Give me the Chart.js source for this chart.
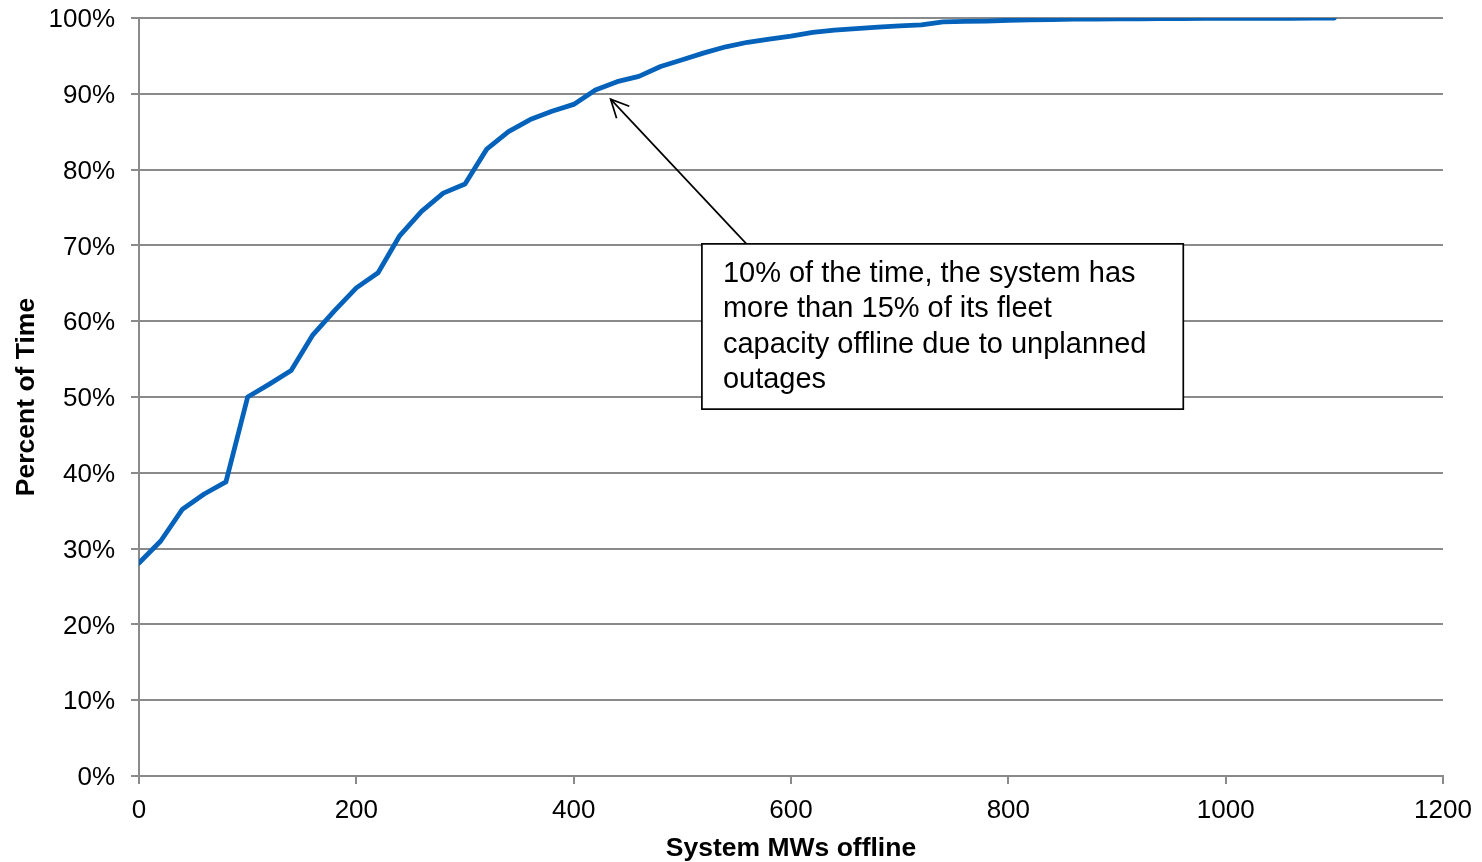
<!DOCTYPE html>
<html>
<head>
<meta charset="utf-8">
<script src="https://cdn.jsdelivr.net/npm/chart.js@4/dist/chart.umd.min.js"></script>
<style>
  html, body { margin: 0; padding: 0; background: #fff; }
  #wrap { width: 1482px; height: 862px; position: relative; }
</style>
</head>
<body>
<div id="wrap"><canvas id="c" width="1482" height="862"></canvas></div>
<script>
// ---- data ----
const mwOffline = [0,20,40,60,80,100,120,140,160,180,200,220,240,260,280,300,320,340,360,380,400,420,440,460,480,500,520,540,560,580,600,620,640,660,680,700,720,740,760,780,800,820,840,860,880,900,920,940,960,980,1000,1020,1040,1060,1080,1100];
const percentTime = [28.1,31.0,35.2,37.2,38.8,50.0,51.7,53.5,58.2,61.4,64.4,66.4,71.3,74.5,76.9,78.1,82.7,85.0,86.6,87.7,88.6,90.5,91.6,92.3,93.6,94.5,95.4,96.2,96.8,97.2,97.6,98.1,98.4,98.6,98.8,98.95,99.1,99.5,99.55,99.6,99.7,99.75,99.8,99.85,99.85,99.9,99.9,99.92,99.93,99.94,99.95,99.95,99.96,99.97,99.98,100];
const xTicks = [0,200,400,600,800,1000,1200];
const yTicks = [0,10,20,30,40,50,60,70,80,90,100];
const xTitle = 'System MWs offline';
const yTitle = 'Percent of Time';
const noteLines = ['10% of the time, the system has','more than 15% of its fleet','capacity offline due to unplanned','outages'];
// annotation anchors in data units
const arrowTip = {x: 434, y: 89.3};
const arrowTail = {x: 559, y: 70.2};
const noteBox = {x0: 518, x1: 961, y0: 70.2, y1: 48.4};

const pts = mwOffline.map((x, i) => ({x, y: percentTime[i]}));
const FONT = '"Liberation Sans", Arial, sans-serif';
const GRID = '#8a8a8a';

const notePlugin = {
  id: 'note',
  afterDraw(chart) {
    const {ctx, scales: {x, y}} = chart;
    ctx.save();
    const tx = x.getPixelForValue(arrowTip.x), ty = y.getPixelForValue(arrowTip.y);
    const sx = x.getPixelForValue(arrowTail.x), sy = y.getPixelForValue(arrowTail.y);
    ctx.strokeStyle = '#000';
    ctx.lineWidth = 1.7;
    ctx.beginPath();
    ctx.moveTo(sx, sy); ctx.lineTo(tx, ty); ctx.stroke();
    const ang = Math.atan2(ty - sy, tx - sx);
    const L = 20, A = 0.45;
    ctx.beginPath();
    ctx.moveTo(tx - L * Math.cos(ang - A), ty - L * Math.sin(ang - A));
    ctx.lineTo(tx, ty);
    ctx.lineTo(tx - L * Math.cos(ang + A), ty - L * Math.sin(ang + A));
    ctx.stroke();
    const bx0 = x.getPixelForValue(noteBox.x0), bx1 = x.getPixelForValue(noteBox.x1);
    const by0 = y.getPixelForValue(noteBox.y0), by1 = y.getPixelForValue(noteBox.y1);
    ctx.fillStyle = '#fff';
    ctx.fillRect(bx0, by0, bx1 - bx0, by1 - by0);
    ctx.lineWidth = 1.7;
    ctx.strokeRect(bx0, by0, bx1 - bx0, by1 - by0);
    ctx.fillStyle = '#000';
    ctx.font = '29px ' + FONT;
    ctx.textBaseline = 'alphabetic';
    ctx.textAlign = 'left';
    noteLines.forEach((t, i) => ctx.fillText(t, bx0 + 21, by0 + 38 + i * 35.4));
    ctx.restore();
  }
};

new Chart(document.getElementById('c'), {
  type: 'line',
  data: {
    datasets: [{
      data: pts,
      borderColor: '#0562BA',
      borderWidth: 4.8,
      pointRadius: 0,
      tension: 0,
      fill: false,
      borderJoinStyle: 'round',
      borderCapStyle: 'round'
    }]
  },
  options: {
    responsive: false,
    animation: false,
    devicePixelRatio: 1,
    layout: { padding: { left: 0, right: 39, top: 18, bottom: 0 } },
    plugins: { legend: { display: false }, tooltip: { enabled: false } },
    scales: {
      x: {
        type: 'linear',
        min: 0, max: 1200,
        afterBuildTicks: s => { s.ticks = xTicks.map(v => ({value: v})); },
        afterFit: s => { s.height = 86; s.paddingLeft = 0; s.paddingRight = 0; },
        grid: { display: false, drawOnChartArea: false, tickLength: 8, color: GRID, lineWidth: 2 },
        border: { display: true, color: GRID, width: 2 },
        ticks: { color: '#000', font: { family: FONT, size: 26 }, padding: 11, maxRotation: 0, autoSkip: false, callback: v => String(v) },
        title: { display: true, text: xTitle, color: '#000', font: { family: FONT, size: 26.5, weight: 'bold' }, padding: { top: 0, bottom: -3 } }
      },
      y: {
        min: 0, max: 100,
        afterBuildTicks: s => { s.ticks = yTicks.map(v => ({value: v})); },
        afterFit: s => { s.width = 139; s.paddingTop = 0; s.paddingBottom = 0; },
        grid: { color: GRID, lineWidth: 2, tickLength: 8 },
        border: { display: true, color: GRID, width: 2 },
        ticks: { color: '#000', font: { family: FONT, size: 26 }, padding: 16, labelOffset: 2, callback: v => v + '%' },
        title: { display: true, text: yTitle, color: '#000', font: { family: FONT, size: 26.5, weight: 'bold' }, padding: { top: 11, bottom: 0 } }
      }
    }
  },
  plugins: [notePlugin, {
    id: 'xticks',
    afterDraw(chart) {
      const {ctx, scales: {x, y}} = chart;
      ctx.save();
      ctx.strokeStyle = GRID; ctx.lineWidth = 2;
      xTicks.forEach(v => {
        const px = Math.round(x.getPixelForValue(v));
        ctx.beginPath(); ctx.moveTo(px, y.bottom); ctx.lineTo(px, y.bottom + 8); ctx.stroke();
      });
      ctx.restore();
    }
  }]
});
</script>
</body>
</html>
